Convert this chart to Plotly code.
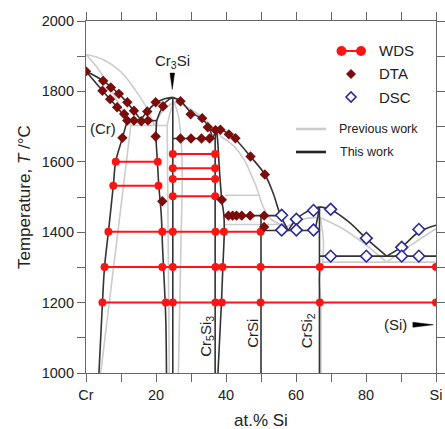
import plotly.graph_objects as go

# ---------------- data (at.% Si, temperature in °C) ----------------
# "This work" phase boundaries
cr_liquidus_x = [0, 4.9, 9.4, 13.7, 15.6]
cr_liquidus_T = [1857, 1830, 1793, 1745, 1719]
cr_solidus_x = [0, 4.7, 8.9, 11.8]
cr_solidus_T = [1857, 1802, 1755, 1717]
eut1_x = [11.8, 20.2]
eut1_T = [1717, 1717]
cr3si_liqL_x = [15.6, 17.5, 19.9, 22.5, 24.7]
cr3si_liqL_T = [1719, 1743, 1767, 1779, 1783]
cr3si_solL_x = [20.2, 21.3, 22.8, 24.7]
cr3si_solL_T = [1717, 1745, 1770, 1783]
cr_solvus_x = [11.8, 10.4, 8.5, 7.8, 6.4, 5.3, 4.7, 3.7]
cr_solvus_T = [1717, 1668, 1601, 1532, 1401, 1301, 1200, 1000]
cr3si_left_x = [20.2, 20.0, 20.4, 20.8, 21.5, 21.9, 22.4, 22.8, 23.0]
cr3si_left_T = [1717, 1672, 1601, 1532, 1450, 1350, 1250, 1150, 1000]
cr3si_right_x = [24.8, 24.8]
cr3si_right_T = [1783, 1000]
eut2_x = [24.8, 37.0]
eut2_T = [1666, 1666]
cr3si_liqR_x = [24.7, 27.0, 30.0, 33.0, 35.0, 36.2]
cr3si_liqR_T = [1783, 1773, 1740, 1723, 1700, 1666]
cr5si3_liqL_x = [36.2, 37.3]
cr5si3_liqL_T = [1666, 1693]
cr5si3_left_x = [37.3, 36.9, 36.9]
cr5si3_left_T = [1693, 1666, 1000]
cr5si3_right_x = [37.3, 37.7, 38.1, 38.8, 39.4, 39.5, 39.1, 38.7, 37.7]
cr5si3_right_T = [1693, 1650, 1580, 1492, 1447, 1401, 1301, 1200, 1000]
perit_x = [39.4, 55.6]
perit_T = [1447, 1447]
cr5si3_liqR_x = [37.3, 38.6, 40.8, 42.7, 47.0, 51.1, 53.5, 55.6, 57.8]
cr5si3_liqR_T = [1693, 1692, 1679, 1664, 1615, 1564, 1510, 1447, 1405]
crsi_x = [50.0, 50.0]
crsi_T = [1447, 1000]
eut3_x = [50.0, 65.4]
eut3_T = [1405, 1405]
crsi2_liqL_x = [57.8, 60.1, 62.5, 65.0, 66.7]
crsi2_liqL_T = [1405, 1437, 1455, 1465, 1472]
crsi2_solL_x = [65.4, 66.2, 66.7]
crsi2_solL_T = [1405, 1443, 1472]
crsi2_x = [66.7, 66.7]
crsi2_T = [1472, 1000]
crsi2_liqR_x = [66.7, 70.0, 75.0, 80.2, 85.9]
crsi2_liqR_T = [1472, 1464, 1430, 1381, 1332]
si_liq_x = [85.9, 90.2, 95.0, 100]
si_liq_T = [1332, 1358, 1400, 1420]
eut4_x = [66.7, 100]
eut4_T = [1332, 1332]

# "Previous work" boundaries
p_cr_liq_x = [0, 5, 10, 14, 17.5, 19.5]
p_cr_liq_T = [1905, 1890, 1855, 1805, 1750, 1703]
p_cr_sol_x = [0, 3, 6, 9, 11.5, 12.8]
p_cr_sol_T = [1905, 1870, 1825, 1772, 1725, 1703]
p_eut1_x = [12.8, 23.2]
p_eut1_T = [1703, 1703]
p_cr_solvus_x = [12.8, 4.2]
p_cr_solvus_T = [1703, 1000]
p_cr3si_liqL_x = [19.5, 22.0, 25.2]
p_cr3si_liqL_T = [1703, 1745, 1770]
p_cr3si_solL_x = [23.2, 24.2, 25.2]
p_cr3si_solL_T = [1703, 1745, 1770]
p_cr3si_left_x = [23.2, 23.8]
p_cr3si_left_T = [1703, 1000]
p_cr3si_right_x = [25.2, 26.5, 27.3, 27.5, 27.2, 26.4]
p_cr3si_right_T = [1770, 1725, 1640, 1550, 1400, 1000]
p_cr3si_liqR_x = [25.2, 29.0, 33.0, 36.5, 38.5]
p_cr3si_liqR_T = [1770, 1755, 1728, 1695, 1672]
p_cr5si3_liq_x = [38.5, 42.1, 45.0, 47.3, 49.0, 50.5, 52.5, 55.0, 57.3]
p_cr5si3_liq_T = [1672, 1646, 1609, 1561, 1520, 1475, 1440, 1424, 1416]
p_h1505_x = [39.7, 49.3]
p_h1505_T = [1505, 1505]
p_h1422_x = [39.7, 57.0]
p_h1422_T = [1422, 1422]
p_crsi2_liqL_x = [57.3, 62.1, 66.9]
p_crsi2_liqL_T = [1416, 1437, 1442]
p_crsi2_liqR_x = [66.9, 73.5, 80.2, 85.9]
p_crsi2_liqR_T = [1442, 1409, 1362, 1315]
p_si_liq_x = [85.9, 92.6, 100]
p_si_liq_T = [1315, 1362, 1410]
p_eut4_x = [67.5, 100]
p_eut4_T = [1315, 1315]
p_crsi2_x = [66.9, 67.8, 67.6, 66.6, 67.0, 67.1]
p_crsi2_T = [1442, 1380, 1315, 1265, 1220, 1000]

# WDS tie lines (one list of compositions per temperature)
wds_T = [1600, 1532, 1622, 1582, 1551, 1502, 1401, 1301, 1200]
wds_x = [
    [8.5, 20.5],
    [7.8, 20.7],
    [24.8, 36.9],
    [24.8, 36.9],
    [24.8, 36.9],
    [24.8, 36.9],
    [6.4, 21.8, 24.8, 37.0, 39.4, 49.9],
    [5.3, 21.8, 24.8, 37.0, 39.0, 49.9, 66.8, 100],
    [4.7, 22.8, 24.8, 37.0, 38.8, 49.9, 66.8, 100],
]

# DTA signals
dta_x = [0, 4.9, 7.1, 9.4, 11.8, 13.7, 4.7, 6.9, 8.9, 10.9,
         11.8, 13.7, 15.8, 17.7, 17.5, 19.9, 22.0, 10.4, 19.9, 21.8,
         27.0, 29.9, 33.2, 34.8, 27.0, 30.0, 33.0, 35.3,
         37.0, 38.4, 40.8, 42.7, 47.0, 51.1, 38.8,
         40.7, 41.9, 43.0, 44.5, 46.9, 50.9, 50.9]
dta_T = [1857, 1830, 1811, 1793, 1769, 1745, 1802, 1778, 1755, 1736,
         1717, 1717, 1715, 1717, 1743, 1769, 1758, 1668, 1672, 1488,
         1772, 1735, 1724, 1698, 1666, 1666, 1666, 1666,
         1690, 1691, 1678, 1667, 1615, 1564, 1492,
         1447, 1447, 1447, 1447, 1447, 1447, 1415]

# DSC signals
dsc_x = [55.9, 60.1, 65.0, 69.9, 80.1, 90.2, 95.1,
         55.9, 60.1, 65.0, 69.9, 80.1, 90.2, 95.1]
dsc_T = [1448, 1437, 1462, 1465, 1383, 1357, 1408,
         1406, 1406, 1406, 1332, 1332, 1332, 1332]

x_tickvals = [0, 10, 20, 30, 40, 50, 60, 70, 80, 90, 100]
x_ticktext = ["Cr", "", "20", "", "40", "", "60", "", "80", "", "Si"]
y_tickvals = list(range(1000, 2001, 100))
y_ticktext = [str(v) if v % 200 == 0 else "" for v in y_tickvals]

# ---------------- figure ----------------
FONT = "Liberation Sans, Arial, sans-serif"
BLACK = "#333333"
GREY = "#cccccc"
RED = "#ff1414"
DTA_C = "#7a0c0c"
DSC_C = "#2a2a9c"

fig = go.Figure()

grey_curves = [
    (p_cr_liq_x, p_cr_liq_T, True), (p_cr_sol_x, p_cr_sol_T, True),
    (p_eut1_x, p_eut1_T, False), (p_cr_solvus_x, p_cr_solvus_T, False),
    (p_cr3si_liqL_x, p_cr3si_liqL_T, True), (p_cr3si_solL_x, p_cr3si_solL_T, True),
    (p_cr3si_left_x, p_cr3si_left_T, False), (p_cr3si_right_x, p_cr3si_right_T, True),
    (p_cr3si_liqR_x, p_cr3si_liqR_T, True), (p_cr5si3_liq_x, p_cr5si3_liq_T, True),
    (p_h1505_x, p_h1505_T, False), (p_h1422_x, p_h1422_T, False),
    (p_crsi2_liqL_x, p_crsi2_liqL_T, True), (p_crsi2_liqR_x, p_crsi2_liqR_T, True),
    (p_si_liq_x, p_si_liq_T, True), (p_eut4_x, p_eut4_T, False),
    (p_crsi2_x, p_crsi2_T, True),
]
for xs, ts, smooth in grey_curves:
    fig.add_trace(go.Scatter(x=xs, y=ts, mode="lines", showlegend=False, hoverinfo="skip",
                             line=dict(color=GREY, width=1.6,
                                       shape="spline" if smooth else "linear")))

black_curves = [
    (cr_liquidus_x, cr_liquidus_T, True), (cr_solidus_x, cr_solidus_T, True),
    (eut1_x, eut1_T, False), (cr3si_liqL_x, cr3si_liqL_T, True),
    (cr3si_solL_x, cr3si_solL_T, True), (cr_solvus_x, cr_solvus_T, True),
    (cr3si_left_x, cr3si_left_T, True), (cr3si_right_x, cr3si_right_T, False),
    (eut2_x, eut2_T, False), (cr3si_liqR_x, cr3si_liqR_T, True),
    (cr5si3_liqL_x, cr5si3_liqL_T, False), (cr5si3_left_x, cr5si3_left_T, False),
    (cr5si3_right_x, cr5si3_right_T, True), (perit_x, perit_T, False),
    (cr5si3_liqR_x, cr5si3_liqR_T, True), (crsi_x, crsi_T, False),
    (eut3_x, eut3_T, False), (crsi2_liqL_x, crsi2_liqL_T, True),
    (crsi2_solL_x, crsi2_solL_T, True), (crsi2_x, crsi2_T, False),
    (crsi2_liqR_x, crsi2_liqR_T, True), (si_liq_x, si_liq_T, True),
    (eut4_x, eut4_T, False),
]
for xs, ts, smooth in black_curves:
    fig.add_trace(go.Scatter(x=xs, y=ts, mode="lines", showlegend=False, hoverinfo="skip",
                             line=dict(color=BLACK, width=1.6,
                                       shape="spline" if smooth else "linear")))

for t, xs in zip(wds_T, wds_x):
    fig.add_trace(go.Scatter(x=xs, y=[t] * len(xs), mode="lines+markers", showlegend=False,
                             line=dict(color=RED, width=2),
                             marker=dict(color=RED, size=8, symbol="circle")))

fig.add_trace(go.Scatter(x=dta_x, y=dta_T, mode="markers", showlegend=False,
                         marker=dict(color=DTA_C, size=8, symbol="diamond")))
fig.add_trace(go.Scatter(x=dsc_x, y=dsc_T, mode="markers", showlegend=False,
                         marker=dict(color="white", size=9, symbol="diamond",
                                     line=dict(color=DSC_C, width=1.6))))

shapes = []
# Cr3Si pointer
shapes.append(dict(type="path", xref="x", yref="y",
                   path="M 24.0 1852 L 25.3 1852 L 24.65 1806 Z",
                   fillcolor="black", line=dict(color="black", width=0.5)))
# (Si) pointer
shapes.append(dict(type="path", xref="x", yref="y",
                   path="M 93.4 1144 L 93.4 1130 L 99.2 1137 Z",
                   fillcolor="black", line=dict(color="black", width=0.5)))

# legend drawn in paper coordinates
def px2paper(px, py):
    return (px - 86) / 350.0, (373 - py) / 352.0

lx1, ly = px2paper(341.5, 51)
lx2, _ = px2paper(361, 51)
shapes.append(dict(type="line", xref="paper", yref="paper", x0=lx1, x1=lx2, y0=ly, y1=ly,
                   line=dict(color=RED, width=2)))
r = 5 / 350.0
for cx in (lx1, lx2):
    shapes.append(dict(type="circle", xref="paper", yref="paper",
                       x0=cx - r, x1=cx + r, y0=ly - 5 / 352.0, y1=ly + 5 / 352.0,
                       fillcolor=RED, line=dict(color=RED, width=0)))
dx, dy = 5 / 350.0, 5 / 352.0
cx, cy = px2paper(351, 74)
shapes.append(dict(type="path", xref="paper", yref="paper",
                   path=f"M {cx-dx} {cy} L {cx} {cy+dy} L {cx+dx} {cy} L {cx} {cy-dy} Z",
                   fillcolor=DTA_C, line=dict(color=DTA_C, width=0)))
cx, cy = px2paper(351, 97)
shapes.append(dict(type="path", xref="paper", yref="paper",
                   path=f"M {cx-dx} {cy} L {cx} {cy+dy} L {cx+dx} {cy} L {cx} {cy-dy} Z",
                   fillcolor="white", line=dict(color=DSC_C, width=1.6)))
for py, col in ((129, GREY), (152, "#222222")):
    x0, y0 = px2paper(296, py)
    x1, _ = px2paper(326, py)
    shapes.append(dict(type="line", xref="paper", yref="paper", x0=x0, x1=x1, y0=y0, y1=y0,
                       line=dict(color=col, width=2.6)))

annotations = []
def txt(x, y, s, size=15, xref="x", yref="y", angle=0, xanchor="center"):
    annotations.append(dict(x=x, y=y, xref=xref, yref=yref, text=s, showarrow=False,
                            textangle=angle, xanchor=xanchor, yanchor="middle",
                            font=dict(family=FONT, size=size, color="#222222")))

txt(24.6, 1884, "Cr<sub>3</sub>Si", 15)
txt(4.85, 1694, "(Cr)", 15)
txt(34.2, 1105, "Cr<sub>5</sub>Si<sub>3</sub>", 15, angle=-90)
txt(47.5, 1112, "CrSi", 15, angle=-90)
txt(63.3, 1120, "CrSi<sub>2</sub>", 15, angle=-90)
txt(88.3, 1137, "(Si)", 15)

for py, s, size, pxx in ((51, "WDS", 15, 377), (74, "DTA", 15, 377), (97, "DSC", 15, 377),
                         (129, "Previous work", 12.5, 337), (152, "This work", 12.5, 338)):
    xx, yy = px2paper(pxx, py)
    txt(xx, yy, s, size, xref="paper", yref="paper", xanchor="left")

txt(0.5, (373 - 420) / 352.0, "at.% Si", 17, xref="paper", yref="paper")
txt((24.5 - 86) / 350.0, (373 - 197.5) / 352.0, "Temperature, <i>T</i> /°C", 17,
    xref="paper", yref="paper", angle=-90)

axis_common = dict(showgrid=False, zeroline=False, showline=True, linecolor="#666666",
                   linewidth=1.2, ticks="outside", ticklen=8, tickwidth=1.2,
                   tickcolor="#666666", mirror="ticks", automargin=False,
                   tickfont=dict(family=FONT, size=14.5, color="#222222"))

fig.update_layout(
    width=445, height=429,
    margin=dict(l=86, r=9, t=21, b=56, autoexpand=False),
    paper_bgcolor="white", plot_bgcolor="white",
    xaxis=dict(range=[0, 100], tickvals=x_tickvals, ticktext=x_ticktext, **axis_common),
    yaxis=dict(range=[1000, 2000], tickvals=y_tickvals, ticktext=y_ticktext, **axis_common),
    shapes=shapes, annotations=annotations,
)

fig.write_html("out.html", config={"displayModeBar": False},
               post_script="document.body.style.margin='0';document.body.style.padding='0';")
